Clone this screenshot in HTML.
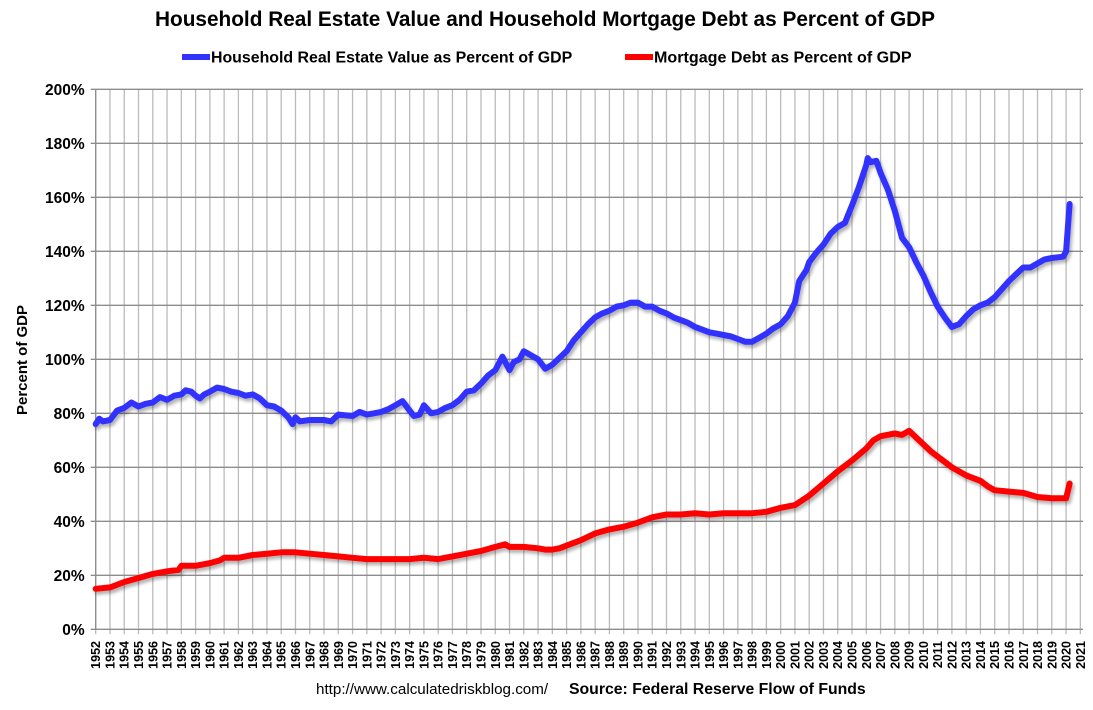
<!DOCTYPE html>
<html><head><meta charset="utf-8"><style>
body{margin:0;background:#fff;font-family:"Liberation Sans",sans-serif}
svg text{font-family:"Liberation Sans",sans-serif}
</style></head><body>
<svg id="c" width="1093" height="705" xmlns="http://www.w3.org/2000/svg">
<defs><filter id="sh" x="-5%" y="-5%" width="110%" height="120%"><feDropShadow dx="2" dy="3" stdDeviation="1.5" flood-color="#000" flood-opacity="0.3"/></filter></defs>
<text x="545" y="26" text-anchor="middle" font-size="20.8" font-weight="bold">Household Real Estate Value and Household Mortgage Debt as Percent of GDP</text>
<g>
<line x1="182" y1="57" x2="210" y2="57" stroke="#3333ff" stroke-width="6"/>
<text x="211" y="62.5" font-size="15.9" font-weight="bold">Household Real Estate Value as Percent of GDP</text>
<line x1="625" y1="57" x2="653" y2="57" stroke="#ff0000" stroke-width="6"/>
<text x="654" y="62.5" font-size="16.1" font-weight="bold">Mortgage Debt as Percent of GDP</text>
</g>
<text transform="translate(27,360) rotate(-90)" text-anchor="middle" font-size="15" font-weight="bold">Percent of GDP</text>
<g id="grid"></g><g id="axes"></g><g id="series"></g>
<text x="316" y="694" font-size="15.2">http://www.calculatedriskblog.com/</text>
<text x="569" y="694" font-size="15.8" font-weight="bold">Source: Federal Reserve Flow of Funds</text>
</svg>
<script>
const yTicks=[0,20,40,60,80,100,120,140,160,180,200];
const years=[];for(let y=1952;y<=2021;y++)years.push(y);
const reT=[1952,1952.25,1952.5,1953,1953.5,1954,1954.5,1955,1955.5,1956,1956.5,1957,1957.5,1958,1958.3,1958.7,1959,1959.3,1959.6,1960,1960.5,1961,1961.5,1962,1962.5,1963,1963.5,1964,1964.5,1965,1965.5,1965.8,1966,1966.3,1967,1968,1968.5,1969,1970,1970.5,1971,1971.5,1972,1972.5,1973,1973.5,1974,1974.3,1974.7,1975,1975.5,1976,1976.5,1977,1977.5,1978,1978.5,1979,1979.5,1980,1980.5,1981,1981.3,1981.7,1982,1982.5,1983,1983.5,1984,1984.5,1985,1985.5,1986,1986.5,1987,1987.5,1988,1988.5,1989,1989.5,1990,1990.5,1991,1991.5,1992,1992.5,1993,1993.5,1994,1994.5,1995,1995.5,1996,1996.5,1997,1997.5,1998,1998.5,1999,1999.5,2000,2000.5,2001,2001.3,2001.8,2002,2002.5,2003,2003.5,2004,2004.5,2005,2005.5,2006,2006.1,2006.3,2006.7,2007,2007.5,2008,2008.5,2009,2009.5,2010,2010.5,2011,2011.5,2012,2012.5,2013,2013.5,2014,2014.5,2015,2015.5,2016,2016.5,2017,2017.5,2018,2018.5,2019,2019.8,2020,2020.25];
const reV=[76,78,77,77.5,81,82,84,82.5,83.5,84,86,85,86.5,87,88.5,88,86.5,85.5,87,88,89.5,89,88,87.5,86.5,87,85.5,83,82.5,81,78.5,76,78.5,77,77.5,77.5,77,79.5,79,80.5,79.5,80,80.5,81.5,83,84.5,81,79,79.5,83,80,80.5,82,83,85,88,88.5,91,94,96,101,96,99,100,103,101.5,100,96.5,98,100.5,103,107,110,113,115.5,117,118,119.5,120,121,121,119.5,119.5,118,117,115.5,114.5,113.5,112,111,110,109.5,109,108.5,107.5,106.5,106.5,108,109.5,111.5,113,116,121,129,133,136,139.5,142.5,146.5,149,150.5,157,164,172,174.5,173,173.5,169,163,155,145,141.5,136,131,125,119.5,115.5,112,113,116,118.5,120,121,123,126,129,131.5,134,134,135.5,137,137.5,138,140,157.5];
const mdT=[1952,1953,1954,1955,1956,1957,1957.8,1958,1959,1960,1960.7,1961,1962,1963,1964,1965,1966,1967,1968,1969,1970,1971,1972,1973,1974,1975,1976,1977,1978,1979,1980,1980.7,1981,1982,1983,1983.5,1984,1984.5,1985,1986,1987,1988,1989,1990,1991,1992,1993,1994,1995,1996,1997,1998,1999,2000,2001,2002,2003,2004,2005,2006,2006.5,2007,2008,2008.5,2009,2009.5,2010,2010.5,2011,2012,2013,2014,2014.5,2015,2016,2017,2018,2019,2020,2020.25];
const mdV=[15,15.5,17.5,19,20.5,21.5,22,23.5,23.5,24.5,25.5,26.5,26.5,27.5,28,28.5,28.5,28,27.5,27,26.5,26,26,26,26,26.5,26,27,28,29,30.5,31.5,30.5,30.5,30,29.5,29.5,30,31,33,35.5,37,38,39.5,41.5,42.5,42.5,43,42.5,43,43,43,43.5,45,46,49.5,54,58.5,62.5,67,70,71.5,72.5,72,73.5,71,68.5,66,64,60,57,55,53,51.5,51,50.5,49,48.5,48.5,54];
const NS="http://www.w3.org/2000/svg";
const X0=95.7,XS=14.27,Y0=629.3,YS=2.7;
const xf=t=>X0+(t-1952)*XS, yf=v=>Y0-v*YS;
function mk(tag,attrs,parent){const e=document.createElementNS(NS,tag);for(const k in attrs)e.setAttribute(k,attrs[k]);parent.appendChild(e);return e;}
const grid=document.getElementById('grid'),axes=document.getElementById('axes'),ser=document.getElementById('series');
years.forEach(y=>{
 const l=mk('line',{x1:xf(y),x2:xf(y),y1:yf(200),y2:yf(0)+5,stroke:'#bbbbbb','stroke-width':1.3},grid);
 
 
 const t=mk('text',{transform:`translate(${xf(y)+4.5},641) rotate(-90)`,'text-anchor':'end','font-size':12.5,'font-weight':'bold'},axes);
 t.textContent=y;
 
 
});
yTicks.forEach(v=>{
 const l=mk('line',{x1:X0-5,x2:1083,y1:yf(v),y2:yf(v),stroke:'#8c8c8c','stroke-width':1.3},grid);
 
 
 const t=mk('text',{x:X0-11,y:yf(v)+5.5,'text-anchor':'end','font-size':15.5,'font-weight':'bold'},axes);
 t.textContent=v+'%';
 
 
});
const ax=mk('line',{x1:X0,x2:X0,y1:yf(200),y2:yf(0),stroke:'#8c8c8c','stroke-width':1.3},axes);


function line(T,V,color,name){
 const d=T.map((t,i)=>(i?'L':'M')+xf(t).toFixed(1)+','+yf(V[i]).toFixed(1)).join('');
 const p=mk('path',{d:d,fill:'none',stroke:color,'stroke-width':6,'stroke-linejoin':'round','stroke-linecap':'round',filter:'url(#sh)'},ser);
 
 
}
line(mdT,mdV,'#ff0000','mortgage-debt-line');
line(reT,reV,'#3333ff','real-estate-value-line');
</script>
</body></html>
